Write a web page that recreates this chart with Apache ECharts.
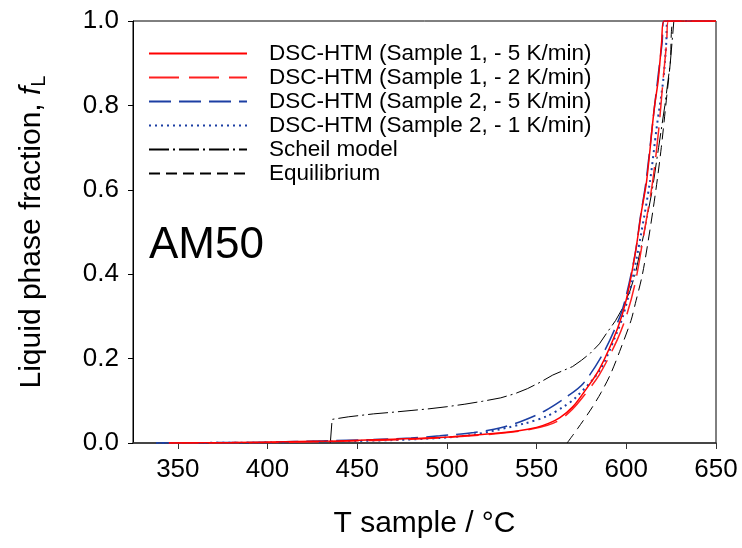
<!DOCTYPE html>
<html>
<head>
<meta charset="utf-8">
<script src="https://cdn.jsdelivr.net/npm/echarts@6/dist/echarts.min.js"></script>
<style>
html,body{margin:0;padding:0;background:#fff;}
#chart{width:742px;height:548px;}
</style>
</head>
<body>
<div id="chart"></div>
<script>
// ---- data (temperature in °C, liquid fraction) ----
const xTicks = [350, 400, 450, 500, 550, 600, 650];
const yTicks = [0, 0.2, 0.4, 0.6, 0.8, 1.0];

const s1r5T = [345, 380, 410, 440, 470, 496, 524, 540, 550, 557, 563, 570, 576, 585, 595, 600, 605, 608.5, 611.3, 615.5, 617.8, 619.7, 621, 650];
const s1r5F = [0, 0.001, 0.003, 0.005, 0.009, 0.013, 0.022, 0.029, 0.037, 0.047, 0.06, 0.085, 0.118, 0.175, 0.27, 0.34, 0.45, 0.55, 0.62, 0.79, 0.86, 0.95, 1.0, 1.0];

const s1r2T = [345, 400, 440, 480, 510, 530, 545, 556, 563, 570, 576, 585, 595, 600.2, 605, 610, 614.7, 618, 620.5, 622.5, 623.5, 650];
const s1r2F = [0, 0.001, 0.004, 0.009, 0.016, 0.023, 0.031, 0.042, 0.055, 0.08, 0.11, 0.162, 0.245, 0.303, 0.38, 0.5, 0.62, 0.74, 0.86, 0.95, 1.0, 1.0];

const s2r5T = [338, 400, 430, 459, 480, 496, 515, 530, 543, 555, 567, 576, 587.2, 596.5, 600, 605, 608, 611, 615, 618, 620, 621, 650];
const s2r5F = [0, 0.002, 0.005, 0.008, 0.012, 0.017, 0.025, 0.036, 0.054, 0.077, 0.11, 0.141, 0.213, 0.3, 0.35, 0.45, 0.54, 0.62, 0.77, 0.88, 0.95, 1.0, 1.0];

const s2r1T = [338, 400, 440, 470, 496, 515, 543, 556, 565, 571.4, 585.3, 594.6, 598.3, 603, 608, 613.2, 617, 620.6, 622.3, 623, 650];
const s2r1F = [0, 0.001, 0.004, 0.007, 0.012, 0.02, 0.046, 0.064, 0.086, 0.106, 0.173, 0.26, 0.303, 0.38, 0.49, 0.62, 0.75, 0.86, 0.95, 1.0, 1.0];

const scheilT = [435, 436, 445, 459, 470, 480, 490, 500, 510, 520, 530, 538, 545, 552, 559, 565, 570, 575, 580, 585, 589, 594, 598, 602, 605, 610, 614.5, 618, 621.5, 624.5, 626.5, 650];
const scheilF = [0, 0.056, 0.062, 0.069, 0.073, 0.077, 0.081, 0.086, 0.092, 0.099, 0.107, 0.117, 0.129, 0.144, 0.161, 0.172, 0.181, 0.196, 0.213, 0.235, 0.26, 0.29, 0.32, 0.36, 0.4, 0.5, 0.6, 0.7, 0.8, 0.9, 1.0, 1.0];

const equilT = [567, 573, 580, 586, 591.4, 597, 602.6, 605, 609, 613, 616.5, 619.5, 622, 624.5, 626.5, 650];
const equilF = [0, 0.035, 0.078, 0.12, 0.165, 0.225, 0.29, 0.33, 0.4, 0.5, 0.6, 0.7, 0.8, 0.9, 1.0, 1.0];

const names = [
  'DSC-HTM (Sample 1, - 5 K/min)',
  'DSC-HTM (Sample 1, - 2 K/min)',
  'DSC-HTM (Sample 2, - 5 K/min)',
  'DSC-HTM (Sample 2, - 1 K/min)',
  'Scheil model',
  'Equilibrium'
];

function zip(a, b) { return a.map((v, i) => [v, b[i]]); }

const FONT = '"Liberation Sans", Arial, Helvetica, sans-serif';

const styles = [
  { color: '#ff0000', width: 1.5, type: 'solid', smooth: 0.3 },
  { color: '#ff2020', width: 1.5, type: [30, 10], smooth: 0.3 },
  { color: '#1c3fa3', width: 1.5, type: [22, 8], smooth: 0.3 },
  { color: '#1c3fa3', width: 2, type: [2, 4], smooth: 0.3 },
  { color: '#000000', width: 1, type: [20, 4, 2, 4], smooth: false },
  { color: '#000000', width: 1, type: [11, 6], smooth: 0.3 }
];
const datasets = [
  zip(s1r5T, s1r5F), zip(s1r2T, s1r2F), zip(s2r5T, s2r5F),
  zip(s2r1T, s2r1F), zip(scheilT, scheilF), zip(equilT, equilF)
];
// drawing order: equilibrium & scheil under DSC curves
const order = [5, 4, 2, 3, 1, 0];

const series = order.map(i => ({
  name: names[i],
  type: 'line',
  data: datasets[i],
  symbol: 'none',
  showSymbol: false,
  smooth: styles[i].smooth,
  clip: true,
  lineStyle: { color: styles[i].color, width: styles[i].width, type: styles[i].type },
  itemStyle: { color: styles[i].color },
  z: 2 + order.indexOf(i),
  animation: false
}));

const chart = echarts.init(document.getElementById('chart'), null, { renderer: 'canvas' });
chart.setOption({
  animation: false,
  backgroundColor: '#ffffff',
  textStyle: { fontFamily: FONT },
  title: {
    text: 'AM50',
    left: 144, top: 219,
    textStyle: { fontFamily: FONT, fontSize: 44, fontWeight: 'normal', color: '#000' }
  },
  legend: {
    data: names,
    orient: 'vertical',
    left: 148, top: 42,
    padding: 0,
    itemWidth: 98, itemHeight: 14, itemGap: 1,
    selectedMode: false,
    itemStyle: { opacity: 0 },
    textStyle: { fontFamily: FONT, fontSize: 22.5, color: '#000', padding: [0, 0, 0, 17] }
  },
  grid: {
    left: 133, right: 26, top: 21, bottom: 105,
    show: true, borderColor: '#000', borderWidth: 1, backgroundColor: 'transparent'
  },
  xAxis: {
    type: 'value',
    min: 325, max: 650,
    name: 'T sample / °C',
    nameLocation: 'middle',
    nameGap: 66,
    nameTextStyle: { fontFamily: FONT, fontSize: 30, color: '#000' },
    axisLine: { show: true, lineStyle: { color: '#333', width: 1.5 } },
    axisTick: { show: true, inside: false, length: 6, customValues: xTicks, lineStyle: { color: '#333' } },
    axisLabel: { customValues: xTicks, fontFamily: FONT, fontSize: 26, color: '#000', margin: 14 },
    splitLine: { show: false }
  },
  yAxis: {
    type: 'value',
    min: 0, max: 1, interval: 0.2,
    name: 'Liquid phase fraction, {i|f}{s|L}',
    nameLocation: 'middle',
    nameGap: 84,
    nameTextStyle: {
      fontFamily: FONT, fontSize: 30, color: '#000',
      rich: {
        i: { fontFamily: FONT, fontSize: 30, fontStyle: 'italic', color: '#000' },
        s: { fontFamily: FONT, fontSize: 20, color: '#000', verticalAlign: 'bottom', padding: [14, 0, 0, 0] }
      }
    },
    axisLine: { show: true, lineStyle: { color: '#000', width: 1 } },
    axisTick: { show: true, inside: false, length: 5, lineStyle: { color: '#000' } },
    axisLabel: {
      fontFamily: FONT, fontSize: 26, color: '#000', margin: 14,
      formatter: v => v.toFixed(1)
    },
    splitLine: { show: false }
  },
  series: series
});
</script>
</body>
</html>
